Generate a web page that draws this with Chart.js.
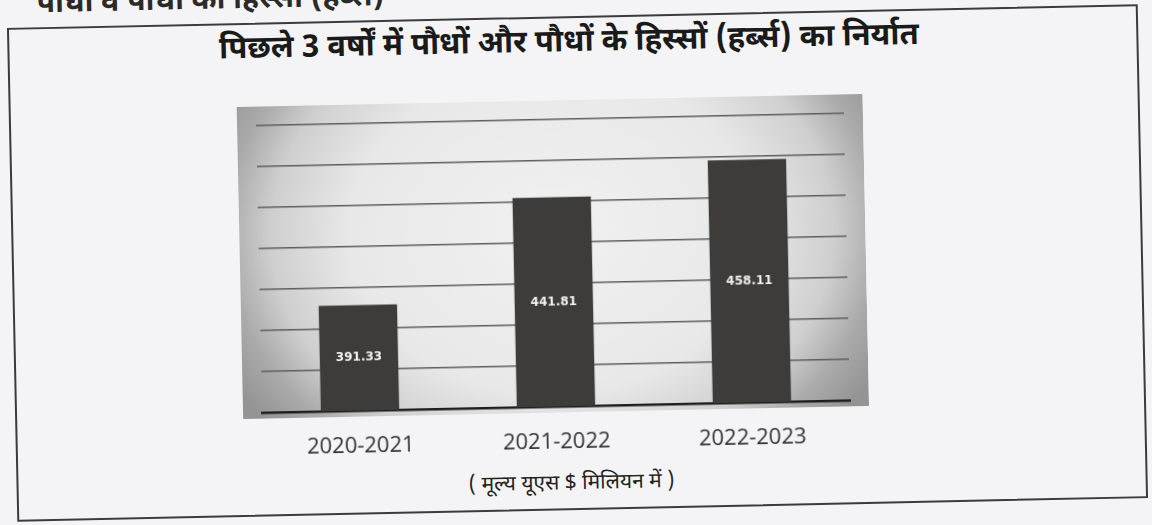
<!DOCTYPE html>
<html lang="hi">
<head>
    <meta charset="UTF-8">
    <title>पौधों और पौधों के हिस्सों का निर्यात</title>
    <script src="https://cdn.jsdelivr.net/npm/chart.js"></script>
    <style>
        html, body {
            margin: 0;
            padding: 0;
            width: 1152px;
            height: 525px;
            overflow: hidden;
            background: #f4f4f6;
        }

        /* the scan is tilted a little, so the whole sheet is turned */
        #stage {
            position: absolute;
            left: 0;
            top: 0;
            width: 1152px;
            height: 525px;
            transform-origin: 577.5px 263px;
            transform: rotate(-1.2deg);
            font-family: "Noto Sans Devanagari", "Lohit Devanagari", "Noto Sans", sans-serif;
            color: #1c1c1c;
        }

        .top-line {
            position: absolute;
            left: 0;
            top: -26px;
            width: 432px;
            text-align: center;
            font-size: 30px;
            font-weight: bold;
            line-height: 40px;
            color: #2a2a2a;
        }

        .box {
            position: absolute;
            left: 12px;
            top: 16px;
            width: 1131px;
            height: 494px;
            border: 2px solid #3b3b3b;
            box-sizing: border-box;
        }

        .title {
            position: absolute;
            left: 0;
            top: 22px;
            width: 1147px;
            text-align: center;
            font-size: 31px;
            font-weight: bold;
            line-height: 44px;
            color: #1a1a1a;
        }

        .chart-wrap {
            position: absolute;
            left: 240px;
            top: 100px;
            width: 626px;
            height: 354px;
        }

        .chart-wrap canvas {
            display: block;
        }

        .caption {
            position: absolute;
            left: 0;
            top: 470px;
            width: 1134px;
            text-align: center;
            font-size: 21px;
            line-height: 28px;
            color: #222;
        }
    </style>
</head>
<body>

<div id="stage">
    <div class="top-line">पौधों व पौधों का हिस्सा (हर्ब्स)</div>
    <div class="box"></div>
    <div class="title">पिछले 3 वर्षों में पौधों और पौधों के हिस्सों (हर्ब्स) का निर्यात</div>
    <div class="chart-wrap">
        <canvas id="exportChart" width="626" height="354"></canvas>
    </div>
    <div class="caption">( मूल्य यूएस $ मिलियन में )</div>
</div>

<script>
    // data (US $ million)
    const years = ['2020-2021', '2021-2022', '2022-2023'];
    const exportValues = [391.33, 441.81, 458.11];
    const valueLabels = ['391.33', '441.81', '458.11'];

    // the value axis is not drawn, only its grid lines
    const axisMin = 340;
    const axisMax = 487;
    const gridStep = 20;

    // grey shaded backdrop behind the plot, darker at the sides
    const backdrop = {
        id: 'backdrop',
        beforeDraw(chart) {
            const c = chart.ctx;
            const w = chart.width;
            const h = chart.chartArea.bottom + 6;
            const cx = w / 2;
            const cy = h * 0.42;
            c.save();
            c.translate(cx, cy);
            c.scale(1, 0.8);
            const g = c.createRadialGradient(0, 0, 0, 0, 0, 370);
            g.addColorStop(0, '#f1f1f2');
            g.addColorStop(0.55, '#e8e8e9');
            g.addColorStop(0.76, '#cfcfcf');
            g.addColorStop(0.88, '#ababab');
            g.addColorStop(1, '#949494');
            c.fillStyle = g;
            c.fillRect(-cx, -cy / 0.8, w, h / 0.8);
            c.restore();
        }
    };

    // white value in the middle of each bar, placed with the chart's own scales
    const barValues = {
        id: 'barValues',
        afterDraw(chart) {
            const c = chart.ctx;
            const xs = chart.scales.x;
            const ys = chart.scales.y;
            const base = ys.getPixelForValue(axisMin);
            c.save();
            c.fillStyle = '#f2f2f2';
            c.font = 'bold 12px DejaVu Sans';
            c.textAlign = 'center';
            c.textBaseline = 'middle';
            exportValues.forEach((v, i) => {
                const top = ys.getPixelForValue(v);
                c.fillText(valueLabels[i], xs.getPixelForValue(i), (top + base) / 2);
            });
            c.restore();
        }
    };

    new Chart(document.getElementById('exportChart'), {
        type: 'bar',
        data: {
            labels: years,
            datasets: [{
                label: 'निर्यात',
                data: exportValues,
                backgroundColor: '#3d3c3a',
                borderWidth: 0,
                barPercentage: 0.4,
                categoryPercentage: 1
            }]
        },
        options: {
            responsive: false,
            animation: false,
            layout: {
                padding: { left: 19, right: 19, top: 4, bottom: 1 }
            },
            plugins: {
                legend: { display: false },
                tooltip: { enabled: false }
            },
            scales: {
                x: {
                    afterFit: s => { s.height = 47; },
                    grid: { display: false, drawTicks: false },
                    border: { display: true, color: '#1e1e1e', width: 2.5 },
                    ticks: {
                        padding: 23,
                        maxRotation: 0,
                        color: '#333',
                        font: { family: 'Open Sans', size: 22 }
                    }
                },
                y: {
                    min: axisMin,
                    max: axisMax,
                    border: { display: false },
                    ticks: { display: false, stepSize: gridStep },
                    grid: {
                        drawTicks: false,
                        lineWidth: 1.5,
                        color: c => (c.tick && c.tick.value > axisMin && c.tick.value % gridStep === 0) ? '#5e5e5e' : 'transparent'
                    }
                }
            }
        },
        plugins: [backdrop, barValues]
    });
</script>

</body>
</html>
